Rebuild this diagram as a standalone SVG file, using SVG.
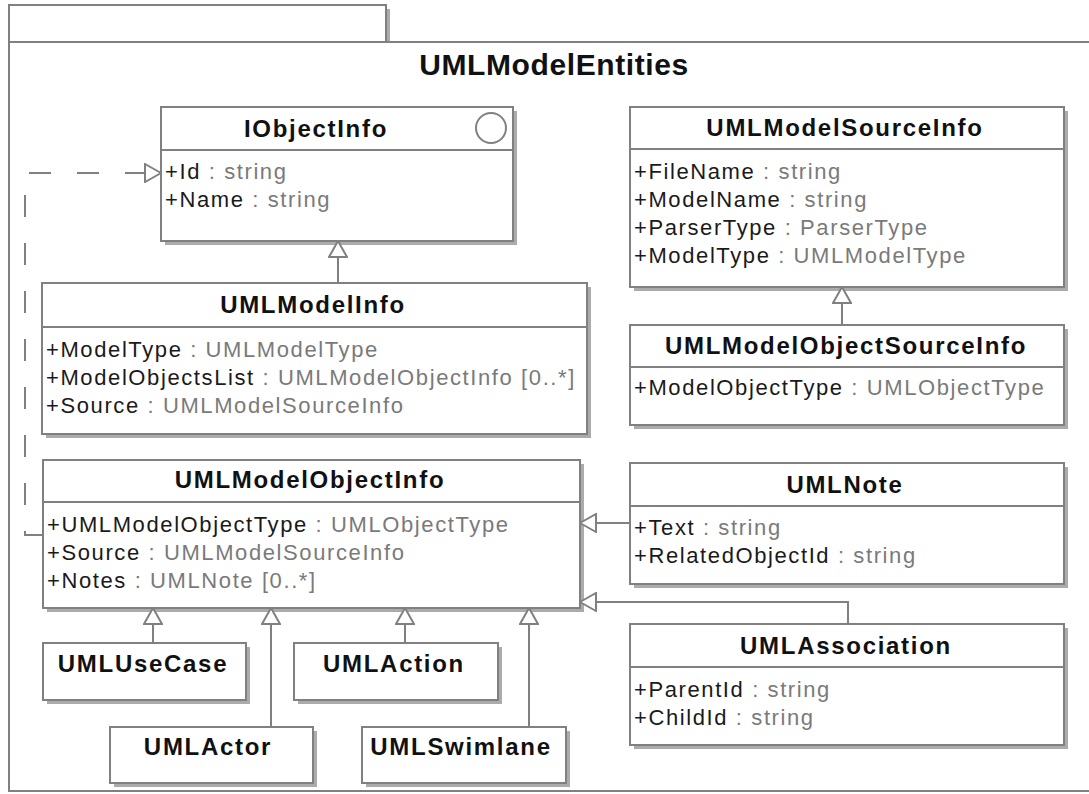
<svg xmlns="http://www.w3.org/2000/svg" width="1089" height="794" viewBox="0 0 1089 794">
<defs>
<style>
.frame{fill:#fff;stroke:#808080;stroke-width:2}
.shadow{fill:#ababab}
.div{stroke:#808080;stroke-width:2}
.title{font-family:"Liberation Sans",Arial,sans-serif;font-weight:bold;font-size:24px;letter-spacing:1.7px;fill:#111;text-anchor:middle}
.attr{font-family:"Liberation Sans",Arial,sans-serif;font-size:22px;letter-spacing:1.6px;fill:#1a1a1a}
.type{fill:#7a7a7a}
.pkgtitle{font-family:"Liberation Sans",Arial,sans-serif;font-weight:bold;font-size:30px;letter-spacing:0.6px;fill:#111;text-anchor:middle}
.conn{fill:none;stroke:#808080;stroke-width:2}
.dash{stroke-dasharray:22 26}
</style>
<marker id="gen" viewBox="0 0 18 20" refX="17" refY="10" markerWidth="18" markerHeight="20" markerUnits="userSpaceOnUse" orient="auto">
<path d="M1,1 L17,10 L1,19 Z" fill="#fff" stroke="#808080" stroke-width="2" stroke-dasharray="none"/>
</marker>
</defs>
<rect width="1089" height="794" fill="#fff"/>
<g id="package">
<rect class="shadow" x="13" y="9" width="377" height="37"/>
<rect class="frame" x="9" y="5" width="377" height="37"/>
<rect class="frame" x="9" y="42" width="1090" height="749"/>
<text class="pkgtitle" x="554" y="75">UMLModelEntities</text>
</g>
<g id="IObjectInfo">
<rect class="shadow" x="165" y="111" width="352" height="134"/>
<rect class="frame" x="161" y="107" width="352" height="134"/>
<line class="div" x1="161" y1="150" x2="513" y2="150"/>
<circle cx="491" cy="128" r="15" fill="#fff" stroke="#808080" stroke-width="2"/>
<text class="title" x="316" y="137">IObjectInfo</text>
<text class="attr" x="165" y="179">+Id<tspan class="type"> : string</tspan></text>
<text class="attr" x="165" y="207">+Name<tspan class="type"> : string</tspan></text>
</g>
<g id="UMLModelInfo">
<rect class="shadow" x="46" y="287" width="545" height="151"/>
<rect class="frame" x="42" y="283" width="545" height="151"/>
<line class="div" x1="42" y1="327" x2="587" y2="327"/>
<text class="title" x="313" y="313">UMLModelInfo</text>
<text class="attr" x="46" y="357">+ModelType<tspan class="type"> : UMLModelType</tspan></text>
<text class="attr" x="46" y="385">+ModelObjectsList<tspan class="type"> : UMLModelObjectInfo [0..*]</tspan></text>
<text class="attr" x="46" y="413">+Source<tspan class="type"> : UMLModelSourceInfo</tspan></text>
</g>
<g id="UMLModelObjectInfo">
<rect class="shadow" x="47" y="464" width="537" height="148"/>
<rect class="frame" x="43" y="460" width="537" height="148"/>
<line class="div" x1="43" y1="502" x2="580" y2="502"/>
<text class="title" x="310" y="488">UMLModelObjectInfo</text>
<text class="attr" x="47" y="532">+UMLModelObjectType<tspan class="type"> : UMLObjectType</tspan></text>
<text class="attr" x="47" y="560">+Source<tspan class="type"> : UMLModelSourceInfo</tspan></text>
<text class="attr" x="47" y="588">+Notes<tspan class="type"> : UMLNote [0..*]</tspan></text>
</g>
<g id="UMLModelSourceInfo">
<rect class="shadow" x="634" y="111" width="434" height="180"/>
<rect class="frame" x="630" y="107" width="434" height="180"/>
<line class="div" x1="630" y1="149" x2="1064" y2="149"/>
<text class="title" x="845" y="136">UMLModelSourceInfo</text>
<text class="attr" x="634" y="179">+FileName<tspan class="type"> : string</tspan></text>
<text class="attr" x="634" y="207">+ModelName<tspan class="type"> : string</tspan></text>
<text class="attr" x="634" y="235">+ParserType<tspan class="type"> : ParserType</tspan></text>
<text class="attr" x="634" y="263">+ModelType<tspan class="type"> : UMLModelType</tspan></text>
</g>
<g id="UMLModelObjectSourceInfo">
<rect class="shadow" x="634" y="329" width="434" height="100"/>
<rect class="frame" x="630" y="325" width="434" height="100"/>
<line class="div" x1="630" y1="367" x2="1064" y2="367"/>
<text class="title" x="846" y="354">UMLModelObjectSourceInfo</text>
<text class="attr" x="634" y="395">+ModelObjectType<tspan class="type"> : UMLObjectType</tspan></text>
</g>
<g id="UMLNote">
<rect class="shadow" x="634" y="467" width="434" height="121"/>
<rect class="frame" x="630" y="463" width="434" height="121"/>
<line class="div" x1="630" y1="506" x2="1064" y2="506"/>
<text class="title" x="845" y="493">UMLNote</text>
<text class="attr" x="634" y="535">+Text<tspan class="type"> : string</tspan></text>
<text class="attr" x="634" y="563">+RelatedObjectId<tspan class="type"> : string</tspan></text>
</g>
<g id="UMLAssociation">
<rect class="shadow" x="634" y="628" width="434" height="121"/>
<rect class="frame" x="630" y="624" width="434" height="121"/>
<line class="div" x1="630" y1="667" x2="1064" y2="667"/>
<text class="title" x="846" y="654">UMLAssociation</text>
<text class="attr" x="634" y="697">+ParentId<tspan class="type"> : string</tspan></text>
<text class="attr" x="634" y="725">+ChildId<tspan class="type"> : string</tspan></text>
</g>
<g id="UMLUseCase">
<rect class="shadow" x="47" y="647" width="203" height="57"/>
<rect class="frame" x="43" y="643" width="203" height="57"/>
<text class="title" x="143" y="672">UMLUseCase</text>
</g>
<g id="UMLAction">
<rect class="shadow" x="298" y="647" width="204" height="57"/>
<rect class="frame" x="294" y="643" width="204" height="57"/>
<text class="title" x="394" y="672">UMLAction</text>
</g>
<g id="UMLActor">
<rect class="shadow" x="114" y="731" width="203" height="56"/>
<rect class="frame" x="110" y="727" width="203" height="56"/>
<text class="title" x="208" y="755">UMLActor</text>
</g>
<g id="UMLSwimlane">
<rect class="shadow" x="366" y="731" width="204" height="56"/>
<rect class="frame" x="362" y="727" width="204" height="56"/>
<text class="title" x="461" y="755">UMLSwimlane</text>
</g>
<g id="connectors">
<path class="conn dash" d="M43,535 L25,535 L25,173 L161,173" marker-end="url(#gen)"/>
<path class="conn" d="M338,283 L338,241" marker-end="url(#gen)"/>
<path class="conn" d="M842,325 L842,287" marker-end="url(#gen)"/>
<path class="conn" d="M630,523 L580,523" marker-end="url(#gen)"/>
<path class="conn" d="M848,624 L848,602 L580,602" marker-end="url(#gen)"/>
<path class="conn" d="M153,643 L153,608" marker-end="url(#gen)"/>
<path class="conn" d="M271,727 L271,608" marker-end="url(#gen)"/>
<path class="conn" d="M405,643 L405,608" marker-end="url(#gen)"/>
<path class="conn" d="M529,727 L529,608" marker-end="url(#gen)"/>
</g>
</svg>
